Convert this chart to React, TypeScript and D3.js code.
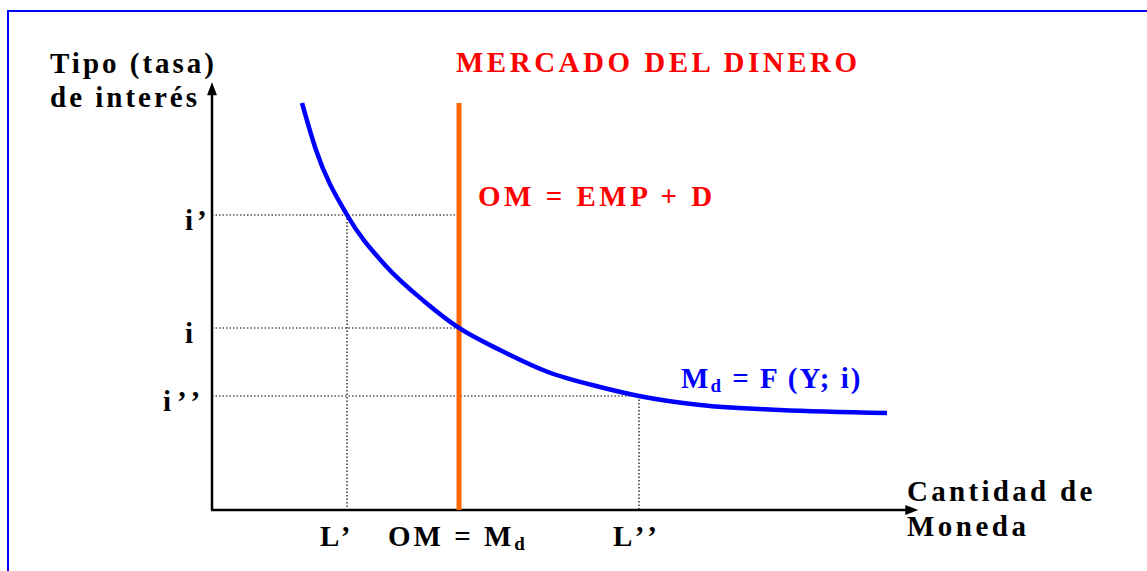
import * as d3 from "d3";

// Money demand curve Md = F(Y; i) (quantity, interest rate)
const demandQuantity = [12.86, 14.86, 19.29, 24.71, 30.43, 35.29, 41.14, 48, 55.43, 61, 69.71, 81.14, 96.43];
const demandRate = [100, 88.45, 72.48, 60.2, 51.11, 44.72, 39.31, 33.91, 30.22, 28.01, 25.8, 24.57, 23.83];

// Money supply (vertical) and reference levels
const supplyQuantity = 35.29;
const supplyTop = 100;
const rateLabels = ["i’", "i", "i’’"];
const rateLevels = [72.48, 44.72, 28.01];
const rateLevelEnds = [35.29, 35.29, 61];
const quantityLabels = ["L’", "OM = M", "L’’"];
const quantityLevels = [19.29, 35.29, 61];
const quantityLevelTops = [72.48, 0, 28.01];

const W = 1147;
const H = 571;
const FONT = "'Liberation Serif', 'Times New Roman', serif";
const FS = 29;

export default function App() {
  const x = d3.scaleLinear().domain([0, 100]).range([212, 912]);
  const y = d3.scaleLinear().domain([0, 100]).range([510, 103]);

  const points = demandQuantity.map((q, k) => [q, demandRate[k]] as [number, number]);
  const line = d3
    .line<[number, number]>()
    .x((d) => x(d[0]))
    .y((d) => y(d[1]))
    .curve(d3.curveMonotoneX);

  const xEnd = x(100.9);
  const yEnd = y(105.1);
  const x0 = x(0);
  const y0 = y(0);

  return (
    <svg width={W} height={H} style={{ position: "absolute", left: 0, top: 0, background: "#fff" }} fontFamily={FONT} fontWeight="bold">
      <rect x={8} y={11} width={1300} height={700} fill="none" stroke="#0000ff" strokeWidth={2} />

      {/* dotted guide lines */}
      {rateLevels.map((r, k) => (
        <line key={"h" + k} x1={x0} x2={x(rateLevelEnds[k])} y1={y(r)} y2={y(r)} stroke="#000" strokeWidth={1.2} strokeDasharray="1.5 2" />
      ))}
      {quantityLevels.map((q, k) =>
        quantityLevelTops[k] > 0 ? (
          <line key={"v" + k} x1={x(q)} x2={x(q)} y1={y(quantityLevelTops[k])} y2={y0} stroke="#000" strokeWidth={1.2} strokeDasharray="1.5 2" />
        ) : null,
      )}

      {/* axes */}
      <line x1={x0} x2={x0} y1={y0} y2={yEnd + 10} stroke="#000" strokeWidth={2.5} />
      <line x1={x0 - 1} x2={xEnd - 10} y1={y0} y2={y0} stroke="#000" strokeWidth={2.5} />
      <path d={`M${x0},${yEnd} L${x0 - 5},${yEnd + 13} L${x0 + 5},${yEnd + 13} Z`} fill="#000" />
      <path d={`M${xEnd},${y0} L${xEnd - 13},${y0 - 5} L${xEnd - 13},${y0 + 5} Z`} fill="#000" />

      {/* money supply */}
      <line x1={x(supplyQuantity)} x2={x(supplyQuantity)} y1={y(supplyTop)} y2={y0} stroke="#ff6600" strokeWidth={5} />

      {/* money demand */}
      <path d={line(points) ?? ""} fill="none" stroke="#0000ff" strokeWidth={4.5} />

      {/* texts */}
      <text x={50} y={73} fontSize={FS} letterSpacing={3} fill="#000">Tipo (tasa)</text>
      <text x={50} y={107} fontSize={FS} letterSpacing={3} fill="#000">de interés</text>
      <text x={456} y={72} fontSize={FS} letterSpacing={3.5} fill="#ff0000">MERCADO DEL DINERO</text>
      <text x={478} y={206} fontSize={FS} letterSpacing={3.5} fill="#ff0000">OM = EMP + D</text>

      {rateLabels.map((t, k) => (
        <text key={"rl" + k} x={k === 2 ? 163 : 185} y={y(rateLevels[k]) + 15} fontSize={FS} letterSpacing={k === 2 ? 6 : 4} fill="#000">{t}</text>
      ))}

      <text x={320} y={546} fontSize={FS} letterSpacing={4} fill="#000">{quantityLabels[0]}</text>
      <text x={388} y={546} fontSize={FS} letterSpacing={3} fill="#000">
        {quantityLabels[1]}
        <tspan fontSize={19} dy={4}>d</tspan>
      </text>
      <text x={613} y={546} fontSize={FS} letterSpacing={5} fill="#000">{quantityLabels[2]}</text>

      <text x={681} y={388} fontSize={FS} letterSpacing={2} fill="#0000ff">
        M<tspan fontSize={19} dy={4}>d</tspan>
        <tspan dy={-4}> = F (Y; i)</tspan>
      </text>

      <text x={907} y={501} fontSize={FS} letterSpacing={3.3} fill="#000">Cantidad de</text>
      <text x={907} y={536} fontSize={FS} letterSpacing={3.5} fill="#000">Moneda</text>
    </svg>
  );
}
